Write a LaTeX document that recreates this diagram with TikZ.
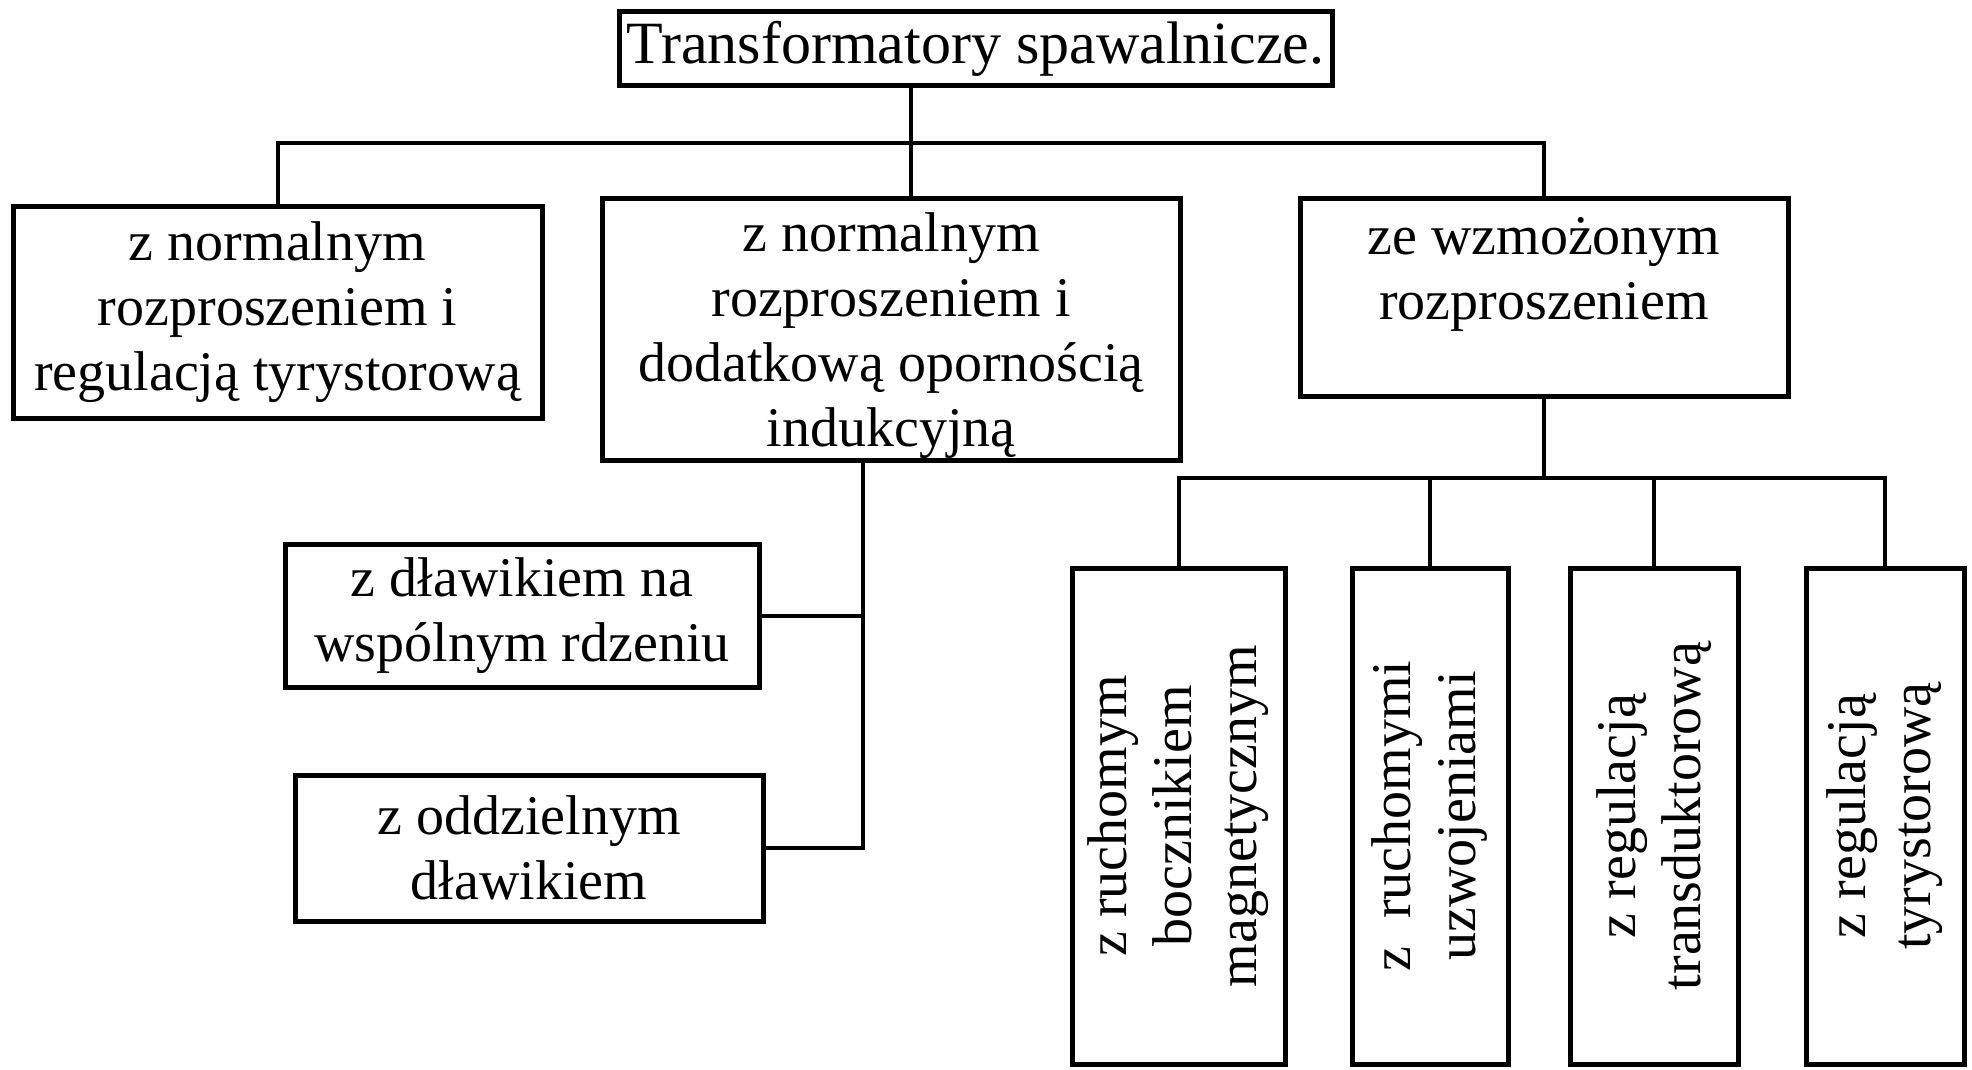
\documentclass[tikz,border=0pt]{standalone}
\usepackage{fontspec}
\setmainfont{Liberation Serif}
\usepackage{tikz}

\begin{document}
\begin{tikzpicture}[x=1pt, y=-1pt,
    every node/.style={font=\fontsize{56}{65}\selectfont, align=center},
    box/.style={draw, line width=5pt, inner sep=0pt},
    vbox/.style={draw, line width=5pt, inner sep=0pt, rotate=90, minimum width=496pt},
    link/.style={line width=4pt}]
    \useasboundingbox (0,0) rectangle (1972,1070);

    \node[box, minimum width=713pt, minimum height=74pt, font=\fontsize{60}{65}\selectfont] (title) at (975.5,49) {Transformatory spawalnicze.};

    \node[box, minimum width=529pt, minimum height=212pt] (normtyr) at (277.5,312) {z normalnym\\rozproszeniem i\\regulacją tyrystorową};
    \node[box, minimum width=578pt, minimum height=262pt, text depth=0pt] (normind) at (891,329.5) {z normalnym\\rozproszeniem i\\dodatkową opornością\\indukcyjną};
    \node[box, minimum width=488pt, minimum height=198pt,
          label={[name=wzmtxt, anchor=north, inner sep=0pt, yshift=-22pt]north:{ze wzmożonym\\rozproszeniem}}] (wzm) at (1544,297) {};

    \node[box, minimum width=474pt, minimum height=143pt] (wspolny) at (522,615.5) {z dławikiem na\\wspólnym rdzeniu};
    \node[box, minimum width=468pt, minimum height=146pt] (oddz) at (529,848) {z oddzielnym\\dławikiem};

    \node[vbox, minimum height=213pt] (boczn) at (1178.5,816) {z ruchomym\\bocznikiem\\magnetycznym};
    \node[vbox, minimum height=156pt] (uzw) at (1430,816) {z\ \ ruchomymi\\uzwojeniami};
    \node[vbox, minimum height=168pt] (trans) at (1654,816) {z regulacją\\transduktorową};
    \node[vbox, minimum height=158pt] (tyr) at (1885,816) {z regulacją\\tyrystorową};

    \coordinate (tbar) at (911,143);
    \coordinate (rbar) at (1543,478);
    \coordinate (dl) at (863,843);

    % upper level
    \draw[link] (title.south -| tbar) -- (normind.north -| tbar);
    \draw[link] (normtyr.north) |- (wzm.north |- tbar) -- (wzm.north);

    % chokes
    \draw[link] (normind.south -| dl) -- (dl |- oddz.east) -- (oddz.east);
    \draw[link] (wspolny.east) -- (wspolny.east -| dl);

    % increased leakage
    \draw[link] (wzm.south) -- (wzm.south |- rbar);
    \draw[link] (boczn.east) |- (tyr.east |- rbar) -- (tyr.east);
    \draw[link] (uzw.east) -- (uzw.east |- rbar);
    \draw[link] (trans.east) -- (trans.east |- rbar);
\end{tikzpicture}
\end{document}
